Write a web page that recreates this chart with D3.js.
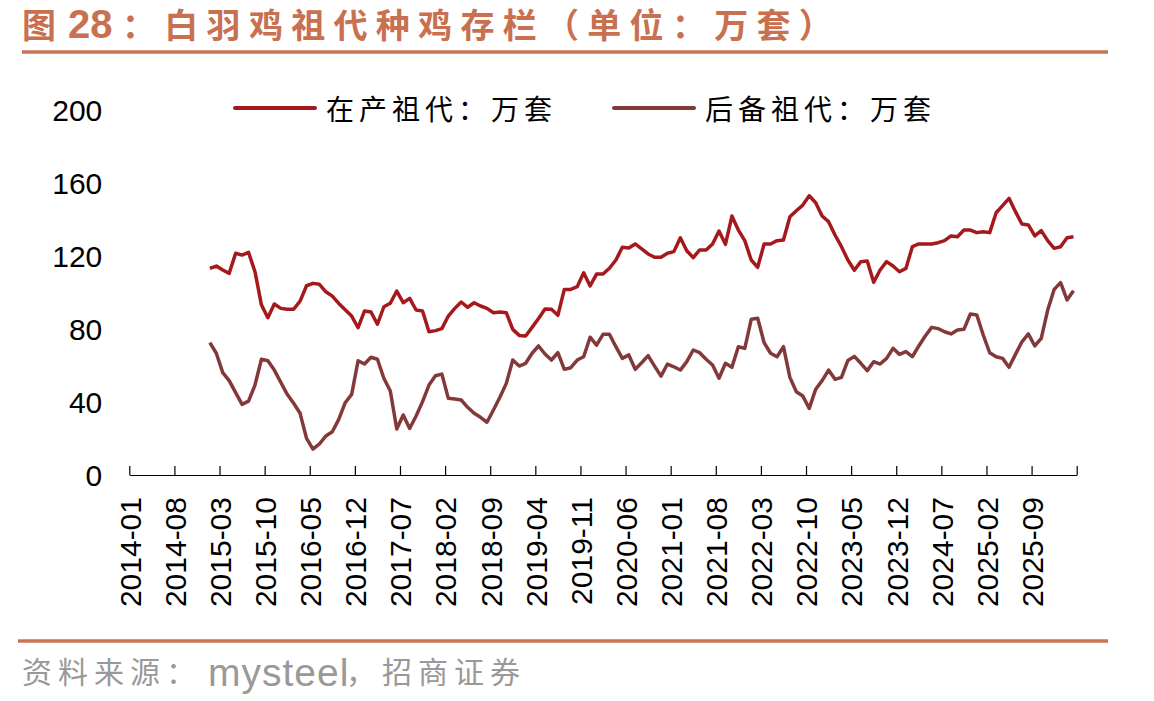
<!DOCTYPE html>
<html>
<head>
<meta charset="utf-8">
<script src="https://cdn.jsdelivr.net/npm/d3@7"></script>
<style>
    body { margin: 0; background: #fff; }
    svg { display: block; }
    .axis text { font-family: "Liberation Sans", Arial, sans-serif; font-size: 30px; fill: #000; }
    .axis path, .axis line { stroke: #000; stroke-width: 1.2; }
</style>
</head>
<body>
<div id="chart"></div>
<script>
// x axis labels, one every 7 months starting 2014-01
const tickLabels = ["2014-01", "2014-08", "2015-03", "2015-10", "2016-05", "2016-12", "2017-07",
    "2018-02", "2018-09", "2019-04", "2019-11", "2020-06", "2021-01", "2021-08", "2022-03",
    "2022-10", "2023-05", "2023-12", "2024-07", "2025-02", "2025-09"]

const yTicks = [0, 40, 80, 120, 160, 200]

const seriesNames = ["在产祖代：万套", "后备祖代：万套"]
const seriesColors = ["#A5191C", "#83393A"]

// monthly values, 2015-01 .. 2026-03
const inProduction = [113.2, 114.5, 112.3, 110.5, 121.5, 120.5, 122, 111.4, 93.2, 86.2,
    93.7, 91.3, 90.8, 90.8, 95.3, 103.7, 105, 104.5, 100.4, 98,
    94, 90.5, 87.1, 80.7, 89.9, 89.3, 82.6, 92.2, 94.1, 100.8,
    94.4, 96.8, 90.4, 89.9, 78.5, 79.1, 80.2, 87.1, 91.3, 94.8,
    91.9, 94.4, 92.6, 91.3, 88.9, 89.3, 88.9, 79.8, 76.5, 76.2,
    80.9, 85.8, 91, 90.8, 87.5, 101.7, 101.7, 103.2, 110.8, 103.6,
    110.1, 110.1, 113.3, 117.8, 124.8, 124.4, 126.6, 123.9, 121.1, 119.3,
    119.3, 121.5, 122.4, 130, 122.9, 119.1, 123.3, 123.3, 126.6, 133.7,
    126.4, 141.9, 134.2, 128.4, 117.8, 113.8, 126.6, 126.6, 128.4, 128.8,
    141.5, 144.8, 147.9, 153, 149.2, 141.9, 138.8, 131.5, 125.1, 117.8,
    112.2, 116.9, 117.3, 105.6, 112.3, 116.9, 114.5, 111.4, 113.2, 125.1,
    126.6, 126.6, 126.6, 127.3, 128.4, 131, 130.6, 134.2, 134.2, 132.8,
    133.3, 132.8, 143.7, 147.6, 151.6, 144.3, 137.5, 137, 131, 133.9,
    128.4, 124.2, 125.1, 130, 130.6]

const reserve = [72.5, 66.7, 56.1, 51.7, 45.1, 38.7, 40.5, 49.3, 63.4, 62.6,
    57.5, 50.8, 44.2, 39.3, 33.8, 20.1, 14.2, 17, 21.4, 23.7,
    30.5, 39.6, 44.2, 62.6, 60.8, 64.5, 63.4, 53, 46, 25.2,
    32.9, 25.5, 32.3, 40.2, 49.3, 54.4, 55.3, 42, 41.6, 41.1,
    37.1, 33.8, 31.6, 28.9, 35.6, 42.6, 50.2, 63, 59.7, 61.2,
    66.7, 70.7, 66.3, 63, 67, 57.9, 58.8, 63, 64.8, 75.5,
    71.2, 77.1, 77.1, 70.3, 63.9, 65.8, 57.9, 61.5, 65.4, 59.7,
    54.2, 60.8, 59.3, 57.5, 62.1, 68.5, 67, 63.4, 60.3, 53,
    61.2, 59, 70.3, 69.4, 85.3, 85.9, 72.5, 66.7, 64.8, 70.3,
    53.5, 45.6, 43.3, 36.5, 47, 51.7, 57.5, 52.4, 53.5, 62.8,
    65, 61.2, 57.2, 62.1, 60.8, 63.9, 69.4, 66.1, 67.6, 64.8,
    70.7, 76.2, 80.9, 80.2, 78.5, 77.3, 79.5, 79.8, 88.2, 87.7,
    76.7, 67, 64.8, 63.9, 59, 66.1, 73, 77.3, 70.7, 74.9,
    90.4, 101.7, 105.4, 95.9, 101]

const firstMonth = 12   // 2015-01 counted from 2014-01
const axisMonths = 147  // 2014-01 .. 2026-03

let width = 1154
let height = 701

let svg = d3.select("#chart")
    .append("svg")
    .attr("width", width)
    .attr("height", height)
    .style("background", "#fff")

let x = d3.scaleLinear()
    .domain([0, axisMonths])
    .range([129.3, 1076.7])

let y = d3.scaleLinear()
    .domain([0, 200])
    .range([475, 110])

// title + rules
let title = svg.append("text")
    .attr("y", 38)
    .style("fill", "#C8704F")
    .style("font-weight", "bold")
    .style("font-family", "'Liberation Sans', 'Noto Sans CJK SC', sans-serif")
    .style("font-size", "34px")
title.append("tspan").attr("x", 22).text("图")
title.append("tspan").attr("x", 68).style("font-size", "40px").text("28")
title.append("tspan").attr("x", 122).style("letter-spacing", "8.3px").text("：白羽鸡祖代种鸡存栏（单位：万套）")

svg.append("line")
    .attr("x1", 22).attr("x2", 1108)
    .attr("y1", 52).attr("y2", 52)
    .style("stroke", "#C97555")
    .style("stroke-width", 3.5)

svg.append("line")
    .attr("x1", 18).attr("x2", 1108)
    .attr("y1", 641).attr("y2", 641)
    .style("stroke", "#C97555")
    .style("stroke-width", 3.5)

let source = svg.append("text")
    .attr("y", 672)
    .attr("dominant-baseline", "central")
    .style("fill", "#999")
    .style("font-family", "'Liberation Sans', 'Noto Sans CJK SC', sans-serif")
    .style("font-size", "30px")
source.append("tspan").attr("x", 22).style("letter-spacing", "6px").text("资料来源：")
source.append("tspan").attr("x", 208).style("font-size", "39px").style("letter-spacing", "1px").text("mysteel")
source.append("tspan").attr("x", 346).style("letter-spacing", "6px").text("，招商证券")

// axes
let xAxis = d3.axisBottom(x)
    .tickValues(d3.range(0, axisMonths + 1, 7))
    .tickFormat(d => tickLabels[d / 7] || "")
    .tickSize(-9)
    .tickSizeOuter(0)

let gx = svg.append("g")
    .attr("class", "x axis")
    .attr("transform", "translate(0,475)")
    .call(xAxis)

gx.selectAll("text")
    .attr("transform", "rotate(-90)")
    .attr("text-anchor", "end")
    .attr("x", -22)
    .attr("y", 0)
    .attr("dy", "0.36em")

let yAxis = d3.axisLeft(y)
    .tickValues(yTicks)
    .tickSize(0)
    .tickPadding(27)

let gy = svg.append("g")
    .attr("class", "y axis")
    .attr("transform", "translate(129.3,0)")
    .call(yAxis)

gy.select(".domain").remove()
gy.selectAll("text").attr("dy", "0.36em")

// lines
let line = d3.line()
    .x((d, i) => x(firstMonth + i + 0.5))
    .y(d => y(d))

let series = [inProduction, reserve]

svg.append("g")
    .selectAll(".series")
    .data(series)
    .enter()
    .append("path")
    .attr("class", "series")
    .attr("d", d => line(d))
    .style("fill", "none")
    .style("stroke", (d, i) => seriesColors[i])
    .style("stroke-width", 3.5)
    .style("stroke-linejoin", "round")

// legend
let legendX = [233, 612]

let legend = svg.append("g")
    .selectAll(".legend")
    .data(seriesNames)
    .enter()
    .append("g")
    .attr("class", "legend")
    .attr("transform", (d, i) => "translate(" + legendX[i] + ",108)")

legend.append("line")
    .attr("x1", 2).attr("x2", 82)
    .style("stroke", (d, i) => seriesColors[i])
    .style("stroke-width", 4)
    .style("stroke-linecap", "round")

legend.append("text")
    .attr("x", 93)
    .attr("dominant-baseline", "central")
    .style("font-family", "'Noto Sans CJK SC', sans-serif")
    .style("font-size", "28px")
    .style("letter-spacing", "5px")
    .style("fill", "#000")
    .text(d => d)
</script>
</body>
</html>
